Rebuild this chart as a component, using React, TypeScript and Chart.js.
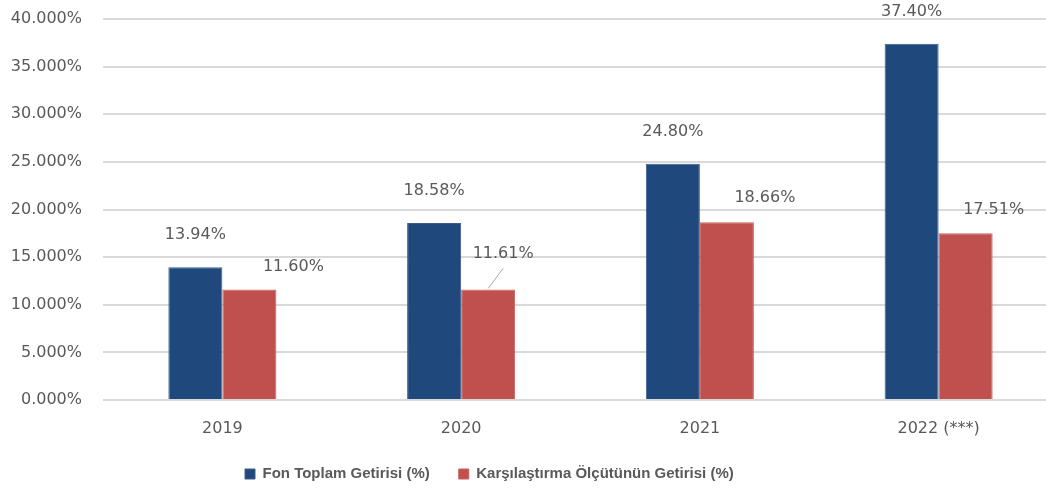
import React, { useEffect, useRef } from "react";
import { Chart, registerables } from "chart.js";

Chart.register(...registerables);

const categories = ["2019", "2020", "2021", "2022 (***)"];
const fundReturns = [13.94, 18.58, 24.8, 37.4];
const benchmarkReturns = [11.6, 11.61, 18.66, 17.51];
const fundLabel = "Fon Toplam Getirisi (%)";
const benchmarkLabel = "Karşılaştırma Ölçütünün Getirisi (%)";

const TEXT = "#595959";
const TICK_FONT = { family: "'DejaVu Sans', sans-serif", size: 16 };

// label placement (pixel offsets of each value label from its bar top centre)
const labelOffsets = [
  [
    [0, -32],
    [0, -32],
    [0, -32],
    [0, -32],
  ],
  [
    [44, -23],
    [15, -36],
    [38, -24],
    [28, -23],
  ],
];

const valueLabels = {
  id: "valueLabels",
  afterDatasetsDraw(chart: any) {
    const ctx = chart.ctx;
    ctx.save();
    ctx.font = "16px 'DejaVu Sans', sans-serif";
    ctx.fillStyle = TEXT;
    ctx.textAlign = "center";
    ctx.textBaseline = "middle";
    chart.data.datasets.forEach((ds: any, di: number) => {
      const meta = chart.getDatasetMeta(di);
      meta.data.forEach((el: any, i: number) => {
        const [dx, dy] = labelOffsets[di][i];
        const v = ds.data[i] as number;
        const tx = el.x + dx;
        const ty = el.y + dy;
        ctx.fillText(v.toFixed(2) + "%", tx, ty);
        if (di === 1 && i === 1) {
          ctx.strokeStyle = "#a6a6a6";
          ctx.lineWidth = 1;
          ctx.beginPath();
          ctx.moveTo(el.x, el.y - 1);
          ctx.lineTo(tx, ty + 15);
          ctx.stroke();
        }
      });
    });
    ctx.restore();
  },
};

const PLOT_TOP = 19;
const LEGEND_TOP = 437.5;

const layoutFix = {
  id: "layoutFix",
  beforeLayout(chart: any) {
    const lg = chart.legend;
    if (!lg || lg.__wrapped) return;
    const orig = lg.fit;
    lg.fit = function () {
      orig.call(this);
      this.height = 30;
    };
    lg.__wrapped = true;
  },
  afterLayout(chart: any) {
    const ca = chart.chartArea;
    const ys = chart.scales.y;
    if (ca && ys) {
      ca.top = PLOT_TOP;
      ca.height = ca.bottom - ca.top;
      ys.top = PLOT_TOP;
      ys.height = ys.bottom - PLOT_TOP;
      ys.configure();
    }
    const lg = chart.legend;
    if (!lg) return;
    const w = lg.right - lg.left;
    lg.left = 216;
    lg.right = 216 + w;
    lg.top = LEGEND_TOP;
    lg.bottom = 492;
    lg.height = 492 - LEGEND_TOP;
  },
};

export default function App() {
  const ref = useRef<HTMLCanvasElement | null>(null);
  useEffect(() => {
    document.body.style.margin = "0";
    const chart = new Chart(ref.current as HTMLCanvasElement, {
      type: "bar",
      data: {
        labels: categories,
        datasets: [
          {
            label: fundLabel,
            data: fundReturns,
            backgroundColor: "#1F497D",
            borderColor: "#3A5E8C",
            borderWidth: 1,
            categoryPercentage: 0.4525,
            barPercentage: 1,
          },
          {
            label: benchmarkLabel,
            data: benchmarkReturns,
            backgroundColor: "#C0504D",
            borderColor: "#C95F5C",
            borderWidth: 1,
            categoryPercentage: 0.4525,
            barPercentage: 1,
          },
        ],
      },
      options: {
        animation: false,
        responsive: false,
        maintainAspectRatio: false,
        layout: { padding: { left: 7, right: 26, top: 9.4, bottom: 12 } },
        scales: {
          x: {
            grid: { display: false },
            border: { display: false },
            ticks: { color: TEXT, font: TICK_FONT, padding: 11 },
            afterFit(scale: any) {
              scale.height = 50;
            },
          },
          y: {
            min: 0,
            max: 40,
            grid: { color: "#d9d9d9", lineWidth: 2, drawTicks: false },
            border: { display: false },
            ticks: {
              stepSize: 5,
              color: TEXT,
              font: TICK_FONT,
              padding: 21,
              callback: (v: any) => Number(v).toFixed(3) + "%",
            },
            afterFit(scale: any) {
              scale.width = 96;
            },
          },
        },
        plugins: {
          legend: {
            position: "bottom",
            align: "start",
            labels: {
              color: TEXT,
              font: { family: "'Liberation Sans', Arial, sans-serif", size: 15, weight: "bold" },
              boxWidth: 10,
              boxHeight: 10,
              padding: 29,
            },
          },
          tooltip: { enabled: false },
        },
      },
      plugins: [valueLabels, layoutFix],
    });
    return () => chart.destroy();
  }, []);
  return (
    <div style={{ width: 1046, height: 492, overflow: "hidden", background: "#fff" }}>
      <canvas ref={ref} width={1084} height={492} style={{ display: "block" }} />
    </div>
  );
}
